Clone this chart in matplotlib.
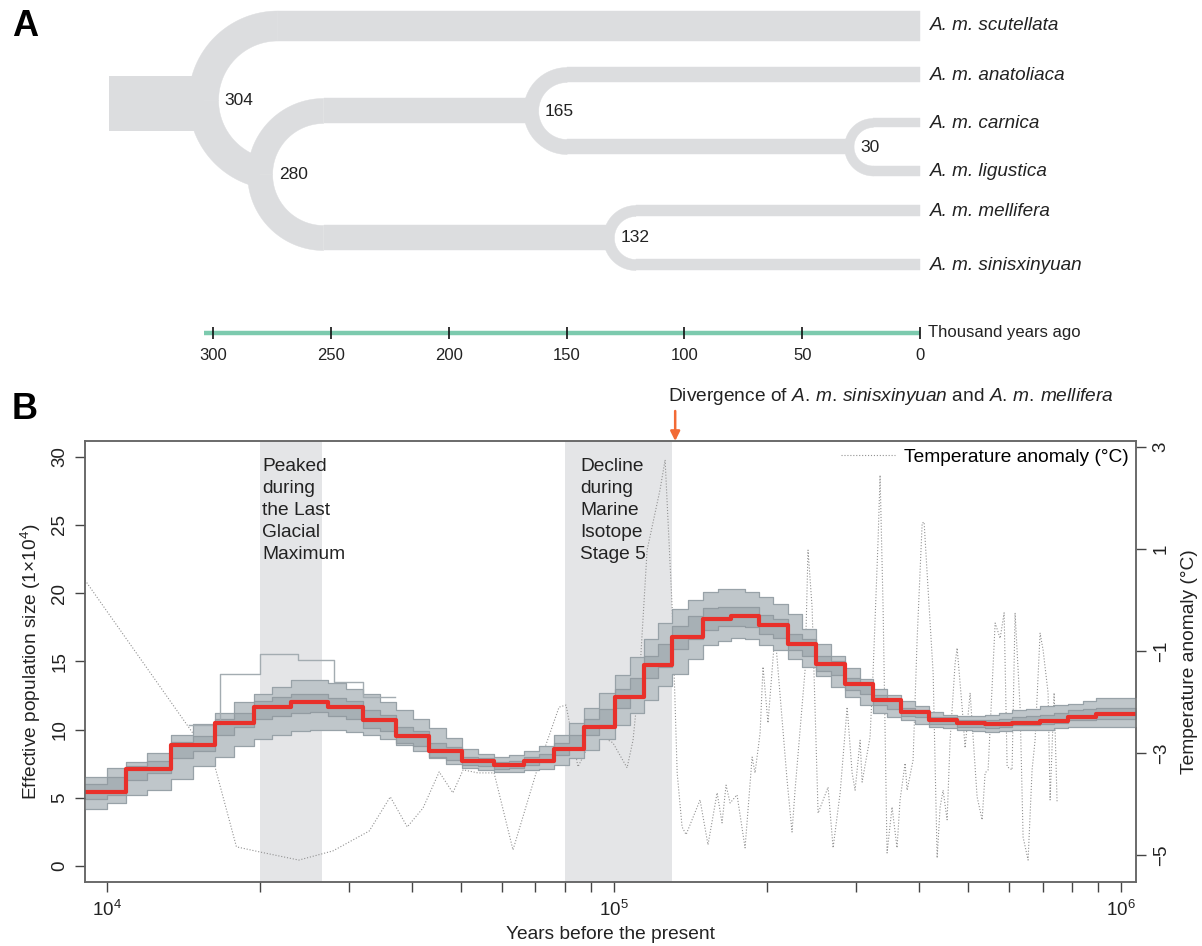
import numpy as np
import matplotlib
matplotlib.use("Agg")
import matplotlib.pyplot as plt
from matplotlib.ticker import LogLocator, NullFormatter

plt.rcParams['font.family'] = ['Liberation Sans', 'DejaVu Sans']
plt.rcParams['mathtext.fontset'] = 'custom'
plt.rcParams['mathtext.rm'] = 'Liberation Sans'
plt.rcParams['mathtext.it'] = 'Liberation Sans:italic'

# ---------------- panel A: divergence tree ----------------
tips = ['A. m. scutellata', 'A. m. anatoliaca', 'A. m. carnica',
        'A. m. ligustica', 'A. m. mellifera', 'A. m. sinisxinyuan']
tip_y = [26, 75, 123, 171, 211, 265]      # vertical slot of each tip
tip_w = [30, 15, 9, 10, 11, 11]           # branch thickness
node_age = {'n304': 304, 'n280': 280, 'n165': 165, 'n132': 132, 'n30': 30}
node_kids = {'n304': ('A. m. scutellata', 'n280'),
             'n280': ('n165', 'n132'),
             'n165': ('A. m. anatoliaca', 'n30'),
             'n30': ('A. m. carnica', 'A. m. ligustica'),
             'n132': ('A. m. mellifera', 'A. m. sinisxinyuan')}
node_w = {'n304': 55, 'n280': 30, 'n165': 25, 'n132': 25, 'n30': 15}
root_start = 344
scale_ticks = [300, 250, 200, 150, 100, 50, 0]

# ---------------- panel B: PSMC ----------------
psmc_edges = [8000, 10900, 13400, 16300, 19500, 23100, 27300, 32000, 37200, 43200,
              50100, 58000, 66400, 76200, 87300, 100400, 114600, 130100, 149900,
              170200, 193300, 220500, 250300, 285600, 324300, 368300, 418100,
              475000, 539500, 609800, 692400, 786100, 892700, 1200000]
psmc_ne = [5.4, 7.1, 8.85, 10.5, 11.65, 12.0, 11.65, 10.7, 9.5, 8.4, 7.7, 7.4, 7.7,
           8.6, 10.2, 12.4, 14.7, 16.8, 18.1, 18.3, 17.65, 16.3, 14.8, 13.3, 12.2,
           11.3, 10.7, 10.5, 10.4, 10.5, 10.6, 10.9, 11.15]

# bootstrap spread, read on a finer time grid
boot_edges = [8000, 10000, 10900, 12000, 13400, 14800, 16300, 17800, 19500, 21200,
              23100, 25100, 27300, 29600, 32000, 34500, 37200, 40100, 43200, 46600,
              50100, 54000, 58000, 62000, 66400, 71000, 76200, 81500, 87300, 93500,
              100400, 107300, 114600, 122000, 130100, 140000, 149900, 160000, 170200, 181000,
              193300, 206000, 220500, 235000, 250300, 268000, 285600, 305000, 324300, 346000,
              368300, 392000, 418100, 445000, 475000, 507000, 539500, 574000, 609800, 650000,
              692400, 738000, 786100, 840000, 892700, 1200000]
boot_hi = [6.5, 7.2, 7.6, 8.3, 9.6, 10.4, 11.2, 12.0, 12.6, 13.1,
           13.6, 13.6, 13.4, 13.0, 12.6, 12.0, 11.4, 10.8, 10.1, 9.4,
           8.6, 8.2, 8.0, 8.1, 8.4, 8.8, 9.6, 10.5, 11.6, 12.7,
           14.0, 15.3, 16.6, 17.8, 18.8, 19.5, 20.1, 20.3, 20.3, 20.1,
           19.7, 19.2, 18.5, 17.4, 16.3, 15.4, 14.5, 13.7, 13.0, 12.5,
           12.1, 11.7, 11.3, 11.1, 11.0, 11.0, 11.1, 11.2, 11.4, 11.5,
           11.7, 11.8, 11.9, 12.1, 12.3]
boot_lo = [4.2, 4.6, 5.2, 5.6, 6.4, 7.3, 8.0, 8.8, 9.3, 9.6,
           9.9, 10.0, 10.0, 9.8, 9.6, 9.3, 8.9, 8.4, 7.9, 7.5,
           7.2, 7.0, 6.9, 6.9, 7.0, 7.1, 7.4, 7.9, 8.5, 9.3,
           10.3, 11.2, 12.2, 13.2, 14.1, 15.2, 16.2, 16.5, 16.7, 16.6,
           16.2, 15.8, 15.2, 14.6, 13.9, 13.1, 12.4, 11.8, 11.2, 10.9,
           10.7, 10.4, 10.2, 10.1, 10.0, 9.9, 9.8, 9.9, 10.0, 10.0,
           10.0, 10.1, 10.2, 10.2, 10.2]
boot_mid_hi = [6.0, 6.5, 7.3, 7.7, 9.1, 9.5, 10.8, 11.2, 12.1, 12.4,
               12.6, 12.6, 12.3, 12.1, 11.4, 11.1, 10.2, 9.9, 9.0, 8.7,
               8.0, 7.9, 7.6, 7.7, 8.0, 8.2, 9.0, 9.6, 10.8, 11.5,
               13.0, 13.8, 15.4, 16.3, 17.6, 18.3, 18.9, 19.0, 19.0, 19.0,
               18.4, 18.1, 17.0, 16.6, 15.4, 15.0, 13.8, 13.5, 12.5, 12.2,
               11.6, 11.4, 10.9, 10.9, 10.7, 10.7, 10.7, 10.8, 10.9, 11.0,
               11.1, 11.2, 11.4, 11.5, 11.6]
boot_mid_lo = [4.9, 5.2, 6.3, 6.8, 7.9, 8.4, 9.6, 10.2, 10.8, 11.0,
               11.2, 11.3, 11.0, 10.8, 10.1, 9.9, 9.0, 8.8, 8.0, 7.8,
               7.4, 7.3, 7.1, 7.2, 7.4, 7.6, 8.1, 8.6, 9.6, 10.3,
               11.6, 12.4, 13.8, 14.6, 15.9, 16.6, 17.3, 17.6, 17.6, 17.5,
               17.0, 16.7, 15.8, 15.4, 14.3, 14.0, 12.9, 12.6, 11.8, 11.5,
               11.0, 10.9, 10.4, 10.4, 10.2, 10.2, 10.1, 10.2, 10.3, 10.3,
               10.4, 10.5, 10.7, 10.7, 10.8]
outlier_edges = [14500, 16700, 20000, 23800, 28000, 32000, 37000]
outlier_ne = [10.3, 14.1, 15.5, 15.1, 13.5, 12.4]

temp_years = [9050, 16260, 18000, 20000, 23900, 27900, 32900, 36200, 39100, 42000,
              45200, 48100, 50400, 53900, 58000, 63200, 70200, 77900, 80400, 84900,
              91700, 99500, 106100, 109000, 112500, 116200, 123200, 126100, 130200,
              133200, 136200, 138700, 147800, 153200, 159700, 163300, 166300, 169400,
              174800, 181300, 187200, 189700, 194100, 196700, 201200, 207700, 219400,
              224400, 227500, 238100, 241300, 245800, 252600, 264300, 270400, 279200,
              288200, 294800, 298800, 305700, 308500, 319800, 324200, 331700, 334700,
              339300, 345500, 353400, 361500, 366500, 375000, 378400, 388800, 396000,
              405200, 408800, 416300, 425900, 433700, 439600, 445600, 453800, 460000,
              470600, 474900, 485800, 492400, 503800, 520000, 532000, 539300, 546700,
              564400, 577300, 587900, 596000, 609500, 617900, 632100, 640800, 655500,
              667500, 676600, 692200, 701700, 717800, 724400, 737700, 747800]
temp_anom = [0.39, -3.2, -4.84, -4.94, -5.1, -4.92, -4.53, -3.86, -4.45, -4.08,
             -3.37, -3.78, -3.33, -3.39, -3.39, -4.9, -3.39, -2.1, -2.06, -3.27,
             -2.6, -2.8, -3.29, -2.75, -1.37, 0.98, 2.16, 2.75, -0.14,
             -3.39, -4.45, -4.6, -3.92, -4.8, -3.78, -4.37, -3.63, -3.98,
             -3.82, -4.86, -3.08, -3.39, -2.61, -1.31, -2.41, -0.65, -3.53,
             -4.55, -3.73, -1.37, 0.98, -0.14, -4.18, -3.67, -4.86, -3.78,
             -2.1, -3.39, -3.73, -2.75, -3.57, -2.69, -1.43, 1.18, 2.45,
             -0.14, -4.96, -4.06, -4.86, -3.92, -3.2, -3.73, -3.14, -0.78,
             1.51, 1.53, 0.2, -1.43, -5.06, -4.06, -3.73, -4.31, -2.75,
             -1.24, -0.94, -2.1, -2.9, -1.82, -3.86, -4.31, -3.39, -3.33,
             -0.45, -0.75, -0.25, -3.27, -3.33, -0.25, -2.1, -4.65, -5.1,
             -3.33, -2.75, -0.65, -0.98, -1.82, -3.92, -1.82, -3.98]
lgm = (20000, 26500)
mis5 = (80000, 130000)
divergence_year = 132000

TREE = '#dcdddf'
INK = '#222222'
FS = 13.8
W, H = 1202, 946
fig = plt.figure(figsize=(W / 100, H / 100), dpi=100)

# ---- panel A ----
PPK = 707 / 300          # pixels per thousand years
T0 = 920                 # pixel column of present day
axA = fig.add_axes([0, 1 - 375 / H, 1, 375 / H])
axA.set_xlim(T0 / PPK, (T0 - W) / PPK)
axA.set_ylim(375, 0)
axA.axis('off')

ypos, wid = {}, {}
for n, y, w in zip(tips, tip_y, tip_w):
    ypos[n], wid[n] = y, w


def get_y(n):
    if n not in ypos:
        a, b = node_kids[n]
        ypos[n] = (get_y(a) + get_y(b)) / 2
        wid[n] = node_w[n]
    return ypos[n]


get_y('n304')


def half_arc(age, ym, r, w0, w1, sign, t_end):
    t = np.linspace(0, t_end, 80)
    w = w0 + (w1 - w0) * t / (np.pi / 2)
    cx = age - r / PPK
    ox = cx + (r + w / 2) * np.cos(t) / PPK
    oy = ym + sign * (r + w / 2) * np.sin(t)
    ix = cx + (r - w / 2) * np.cos(t) / PPK
    iy = ym + sign * (r - w / 2) * np.sin(t)
    axA.fill(np.r_[ox, ix[::-1]], np.r_[oy, iy[::-1]], color=TREE, lw=0.3, ec=TREE)


def draw(n):
    age = node_age[n]
    c1, c2 = node_kids[n]
    y1, y2 = ypos[c1], ypos[c2]
    ym, r = (y1 + y2) / 2, (y2 - y1) / 2
    wm = (wid[c1] + wid[c2]) / 2
    cx = age - r / PPK
    for c, sign in ((c1, -1), (c2, 1)):
        end = node_age.get(c, 0)
        if end > cx:
            t_end = np.arccos((end - cx) * PPK / r)
            half_arc(age, ym, r, wm, wm + (wid[c] - wm) * t_end / (np.pi / 2), sign, t_end)
        else:
            half_arc(age, ym, r, wm, wid[c], sign, np.pi / 2)
            axA.fill_between([cx, end], ypos[c] - wid[c] / 2, ypos[c] + wid[c] / 2,
                             color=TREE, lw=0.3, ec=TREE)
        if c in node_kids:
            draw(c)
    axA.annotate(str(age), (age, ym), xytext=((wm / 2 + 6) * 0.72, 0),
                 textcoords='offset points', ha='left', va='center',
                 fontsize=12.5, color=INK)


draw('n304')
ry = ypos['n304']
axA.fill_between([root_start, node_age['n304']], ry - node_w['n304'] / 2 + 3,
                 ry + node_w['n304'] / 2 + 3, color=TREE, lw=0)
for n in tips:
    axA.annotate(n, (0, ypos[n]), xytext=(7.5, 0), textcoords='offset points',
                 ha='left', va='center', fontsize=13.6, style='italic', color=INK)

axA.plot([node_age['n304'], 0], [333, 333], color='#7ccaae', lw=3.2,
         solid_capstyle='butt')
axA.vlines(scale_ticks, 327, 339, color='#111111', lw=1.2)
for t in scale_ticks:
    axA.text(t, 356, str(t), ha='center', va='center', fontsize=12, color=INK)
axA.annotate('Thousand years ago', (0, 332), xytext=(6, 0), textcoords='offset points',
             ha='left', va='center', fontsize=12, color=INK)

fig.text(12 / W, 1 - 27 / H, 'A', fontsize=26, fontweight='bold', va='center')
fig.text(12 / W, 1 - 409 / H, 'B', fontsize=26, fontweight='bold', va='center')

# ---- panel B ----
ax = fig.add_axes([85 / W, 64 / H, 1051 / W, 441 / H])
ax2 = ax.twinx()
ax.set_zorder(ax2.get_zorder() + 1)
ax.patch.set_visible(False)

ax.set_xscale('log')
ax.set_xlim(9050, 1.07e6)
ax.set_ylim(-1.17, 31.14)
ax2.set_ylim(-5.53, 3.12)

for span in (lgm, mis5):
    ax2.axvspan(*span, color='#e4e5e7', lw=0, zorder=0)

temp_line, = ax2.plot(temp_years, temp_anom, ls=':', color='#929292', lw=0.8)


def ext(v):
    return list(v) + [v[-1]]


ax.fill_between(boot_edges, ext(boot_lo), ext(boot_hi), step='post', color='#bfc6ca', lw=0)
ax.fill_between(boot_edges, ext(boot_mid_lo), ext(boot_mid_hi), step='post',
                color='#a7b0b5', lw=0)
for v, c in ((boot_hi, '#98a2a8'), (boot_lo, '#98a2a8'),
             (boot_mid_hi, '#939ca2'), (boot_mid_lo, '#939ca2')):
    ax.step(boot_edges, ext(v), where='post', color=c, lw=0.9)
ax.step(outlier_edges, ext(outlier_ne), where='post', color='#a3acb1', lw=1)
ax.step(psmc_edges, ext(psmc_ne), where='post', color='#e9302a', lw=3)

txt_kw = dict(xycoords=ax.get_xaxis_transform(), textcoords='offset points',
              ha='left', va='top', fontsize=FS, linespacing=1.38, color=INK)
ax.annotate('Peaked\nduring\nthe Last\nGlacial\nMaximum', (lgm[0], 0.961),
            xytext=(2, 0), **txt_kw)
ax.annotate('Decline\nduring\nMarine\nIsotope\nStage 5', (mis5[0], 0.961),
            xytext=(11, 0), **txt_kw)

ax.annotate('', xy=(divergence_year, 1.0), xycoords=ax.get_xaxis_transform(),
            xytext=(divergence_year, 1.068), annotation_clip=False,
            arrowprops=dict(arrowstyle='-|>', color='#f26a35', lw=1.8,
                            mutation_scale=14, shrinkA=0, shrinkB=0))
ax.annotate(r'Divergence of $\mathit{A.\,m.\,sinisxinyuan}$ and $\mathit{A.\,m.\,mellifera}$',
            (divergence_year, 1.102), xycoords=ax.get_xaxis_transform(),
            xytext=(-5, 0), textcoords='offset points', ha='left', va='center',
            fontsize=FS, color=INK, annotation_clip=False)

ax.legend([temp_line], ['Temperature anomaly (°C)'], loc='upper right',
          frameon=False, fontsize=FS, handlelength=2.8, handletextpad=0.45,
          borderaxespad=0.2, borderpad=0.2)

ax.set_xticks([1e4, 1e5, 1e6])
ax.set_xticklabels([r'$10^4$', r'$10^5$', r'$10^6$'])
ax.xaxis.set_minor_locator(LogLocator(base=10, subs=np.arange(2, 10)))
ax.xaxis.set_minor_formatter(NullFormatter())
ax.set_yticks([0, 5, 10, 15, 20, 25, 30])
ax2.set_yticks([3, 1, -1, -3, -5])
ax2.set_yticklabels(['3', '1', '\u22121', '\u22123', '\u22125'])

for a in (ax, ax2):
    a.tick_params(which='both', direction='out', length=7, width=1, color='#444444',
                  labelsize=13.5, labelcolor=INK, pad=5)
    for s in a.spines.values():
        s.set_color('#666666')
        s.set_linewidth(1.1)
ax.tick_params(axis='x', pad=6)
for lab in ax.get_yticklabels() + ax2.get_yticklabels():
    lab.set_rotation(90)
    lab.set_va('center')

ax.set_ylabel('Effective population size (1×10$^4$)', fontsize=FS, labelpad=6, color=INK)
ax.set_xlabel('Years before the present', fontsize=FS, labelpad=4, color=INK)
ax2.set_ylabel('Temperature anomaly (°C)', fontsize=FS, labelpad=8, color=INK)

fig.savefig('out.png', dpi=100)
